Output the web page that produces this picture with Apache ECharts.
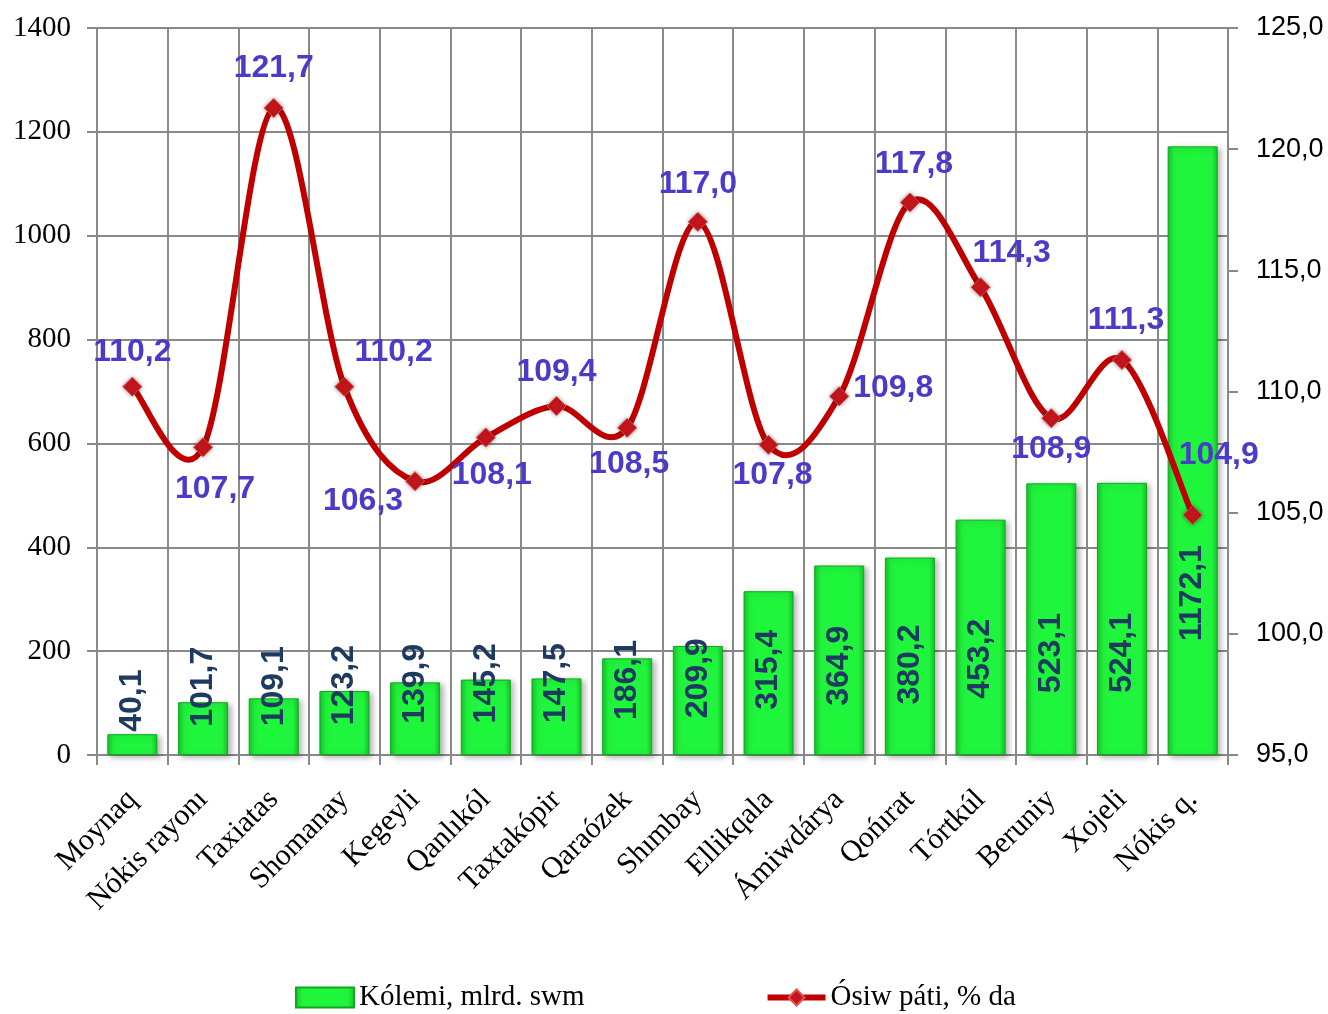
<!DOCTYPE html>
<html>
<head>
<meta charset="utf-8">
<script src="https://cdn.jsdelivr.net/npm/echarts@6/dist/echarts.min.js"></script>
<style>
  html, body { margin: 0; padding: 0; background: #fff; }
  #chart { width: 1328px; height: 1014px; }
</style>
</head>
<body>
<div id="chart"></div>
<script>
  // data
  const regions = ['Moynaq', 'Nókis rayonı', 'Taxiatas', 'Shomanay', 'Kegeyli', 'Qanlıkól', 'Taxtakópir',
    'Qaraózek', 'Shımbay', 'Ellikqala', 'Ámiwdárya', 'Qońırat', 'Tórtkúl', 'Beruniy', 'Xojeli', 'Nókis q.']
  const volume = [40.1, 101.7, 109.1, 123.2, 139.9, 145.2, 147.5, 186.1, 209.9, 315.4, 364.9, 380.2, 453.2, 523.1, 524.1, 1172.1]
  const growth = [110.2, 107.7, 121.7, 110.2, 106.3, 108.1, 109.4, 108.5, 117.0, 107.8, 109.8, 117.8, 114.3, 108.9, 111.3, 104.9]
  const leftTicks = [0, 200, 400, 600, 800, 1000, 1200, 1400]
  const rightTicks = [95, 100, 105, 110, 115, 120, 125]

  // where each growth label sits relative to its point
  const growthLabelPos = ['top', 'bottom', 'top', 'right', 'left', 'bottom', 'top', 'bottom',
    'top', 'bottom', 'right', 'top', 'right', 'bottom', 'top', 'right']
  const growthLabelOffset = [[0, 0], [12, 8], [0, -6], [-8, -34], [6, 20], [6, 4], [0, 0], [2, 2],
    [0, -4], [4, -4], [-4, -8], [4, -4], [-26, -34], [0, -3], [4, -6], [-32, -60]]

  const fmt = v => v.toFixed(1).replace('.', ',')
  const gray = '#898989'
  const red = '#c00000'

  const chart = echarts.init(document.getElementById('chart'))

  const barData = volume.map(v => ({
    value: v,
    label: { distance: 20 + v * 0.08 }
  }))
  const lineData = growth.map((v, i) => ({
    value: v,
    label: { position: growthLabelPos[i], offset: growthLabelOffset[i] }
  }))

  // Excel-like smoothed line: catmull-rom segments through the axis coordinates
  function curveSegment(params, api) {
    const i = params.dataIndex
    const n = growth.length
    if (i >= n - 1) return null
    const pt = j => api.coord([Math.max(0, Math.min(n - 1, j)), growth[Math.max(0, Math.min(n - 1, j))]])
    const p0 = pt(i - 1), p1 = pt(i), p2 = pt(i + 1), p3 = pt(i + 2)
    return {
      type: 'bezierCurve',
      shape: {
        x1: p1[0], y1: p1[1], x2: p2[0], y2: p2[1],
        cpx1: p1[0] + (p2[0] - p0[0]) / 6, cpy1: p1[1] + (p2[1] - p0[1]) / 6,
        cpx2: p2[0] - (p3[0] - p1[0]) / 6, cpy2: p2[1] - (p3[1] - p1[1]) / 6
      },
      style: { stroke: red, lineWidth: 6, fill: null, lineCap: 'round' }
    }
  }

  chart.setOption({
    animation: false,
    grid: { left: 97, right: 100, top: 28, bottom: 259 },
    legend: {
      bottom: -3,
      left: 290,
      itemGap: 180,
      itemWidth: 58,
      itemHeight: 20,
      textStyle: { fontFamily: "'Liberation Serif', serif", fontSize: 29, color: '#000' },
      data: [
        { name: 'Kólemi, mlrd. swm', icon: 'rect' },
        { name: 'Ósiw páti, % da', lineStyle: { color: red, width: 6, opacity: 1 } }
      ]
    },
    xAxis: {
      type: 'category',
      data: regions,
      axisLine: { lineStyle: { color: gray, width: 2 } },
      axisTick: { show: true, length: 10, lineStyle: { color: gray, width: 2 } },
      splitLine: { show: true, lineStyle: { color: gray, width: 2 } },
      axisLabel: {
        rotate: 45, interval: 0, margin: 40,
        fontFamily: "'Liberation Serif', serif", fontSize: 30, color: '#000'
      }
    },
    yAxis: [
      {
        type: 'value', min: 0, max: 1400, interval: 200,
        axisLine: { show: true, lineStyle: { color: gray, width: 2 } },
        axisTick: { show: true, length: 10, lineStyle: { color: gray, width: 2 } },
        splitLine: { show: true, lineStyle: { color: gray, width: 2 } },
        axisLabel: {
          margin: 26, fontFamily: "'Liberation Serif', serif", fontSize: 29, color: '#000',
          formatter: v => leftTicks.includes(v) ? String(v) : ''
        }
      },
      {
        type: 'value', min: 95, max: 125, interval: 5,
        axisLine: { show: true, lineStyle: { color: gray, width: 2 } },
        axisTick: { show: true, length: 10, lineStyle: { color: gray, width: 2 } },
        splitLine: { show: false },
        axisLabel: {
          margin: 28, fontFamily: "'Liberation Sans', Arial, sans-serif", fontSize: 27, color: '#000',
          formatter: v => rightTicks.includes(v) ? fmt(v) : ''
        }
      }
    ],
    series: [
      {
        name: 'Kólemi, mlrd. swm',
        type: 'bar',
        data: barData,
        barWidth: 50,
        itemStyle: {
          color: new echarts.graphic.LinearGradient(0, 0, 1, 0, [
            { offset: 0, color: '#12c626' },
            { offset: 0.12, color: '#22f33e' },
            { offset: 0.5, color: '#1df73b' },
            { offset: 0.88, color: '#22f33e' },
            { offset: 1, color: '#12c626' }
          ]),
          borderColor: '#10a81e',
          borderWidth: 1,
          shadowColor: 'rgba(0,0,0,0.3)',
          shadowBlur: 6,
          shadowOffsetX: 3,
          shadowOffsetY: 2
        },
        label: {
          show: true,
          position: 'insideBottom',
          rotate: 90,
          align: 'left',
          verticalAlign: 'middle',
          fontFamily: "'Liberation Sans', Arial, sans-serif",
          fontWeight: 'bold',
          fontSize: 32,
          color: '#1f3a60',
          formatter: p => fmt(p.value)
        }
      },
      {
        name: 'curve',
        type: 'custom',
        yAxisIndex: 1,
        data: growth.map((v, i) => [i, v]),
        renderItem: curveSegment,
        silent: true,
        clip: false,
        z: 4
      },
      {
        name: 'Ósiw páti, % da',
        type: 'line',
        yAxisIndex: 1,
        data: lineData,
        symbol: 'diamond',
        symbolSize: 19,
        lineStyle: { color: red, width: 6, opacity: 0 },
        itemStyle: {
          color: '#c4161c',
          borderColor: '#e05050',
          borderWidth: 1,
          shadowColor: 'rgba(0,0,0,0.4)',
          shadowBlur: 4
        },
        z: 5,
        label: {
          show: true,
          distance: 8,
          fontFamily: "'Liberation Sans Narrow', 'Arial Narrow', 'Liberation Sans', sans-serif",
          fontWeight: 'bold',
          fontSize: 32,
          color: '#4a3bc9',
          formatter: p => fmt(p.value)
        }
      }
    ]
  })
</script>
</body>
</html>
